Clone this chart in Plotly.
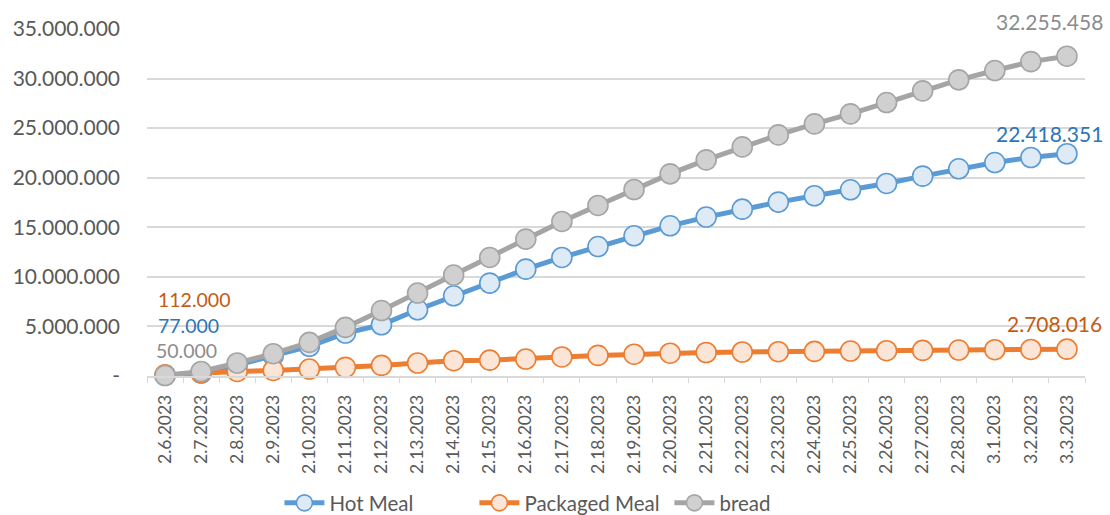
import plotly.graph_objects as go

dates = ["2.6.2023", "2.7.2023", "2.8.2023", "2.9.2023", "2.10.2023", "2.11.2023",
         "2.12.2023", "2.13.2023", "2.14.2023", "2.15.2023", "2.16.2023", "2.17.2023",
         "2.18.2023", "2.19.2023", "2.20.2023", "2.21.2023", "2.22.2023", "2.23.2023",
         "2.24.2023", "2.25.2023", "2.26.2023", "2.27.2023", "2.28.2023", "3.1.2023",
         "3.2.2023", "3.3.2023"]

hot_meal = [77000, 300000, 1100000, 2050000, 3000000, 4330000, 5170000, 6680000,
            8090000, 9370000, 10780000, 11960000, 13060000, 14140000, 15150000,
            16030000, 16830000, 17540000, 18180000, 18780000, 19420000, 20160000,
            20900000, 21530000, 22040000, 22418351]

packaged_meal = [112000, 330000, 460000, 560000, 700000, 870000, 1070000, 1310000,
                 1540000, 1600000, 1710000, 1920000, 2080000, 2200000, 2300000,
                 2370000, 2420000, 2450000, 2480000, 2520000, 2550000, 2580000,
                 2620000, 2650000, 2680000, 2708016]

bread = [50000, 460000, 1310000, 2250000, 3390000, 4900000, 6600000, 8370000,
         10180000, 11960000, 13810000, 15590000, 17200000, 18810000, 20390000,
         21800000, 23110000, 24320000, 25430000, 26440000, 27580000, 28760000,
         29870000, 30810000, 31710000, 32255458]

y_tick_vals = [0, 5000000, 10000000, 15000000, 20000000, 25000000, 30000000, 35000000]
y_tick_text = ["-", "5.000.000", "10.000.000", "15.000.000", "20.000.000",
               "25.000.000", "30.000.000", "35.000.000"]

FONT = "Lato, 'Open Sans', sans-serif"


def fmt(v):
    return f"{v:,}".replace(",", ".")


series = [
    ("Hot Meal", hot_meal, "#5B9BD5", "#DEEBF7", "#2E75B6"),
    ("Packaged Meal", packaged_meal, "#ED7D31", "#FBE5D6", "#C55A11"),
    ("bread", bread, "#A5A5A5", "#D0D0D0", "#8C8C8C"),
]

fig = go.Figure()
for name, vals, line_c, fill_c, _ in series:
    fig.add_trace(go.Scatter(
        x=dates, y=vals, name=name, mode="lines+markers",
        line=dict(color=line_c, width=5),
        marker=dict(size=20, color=fill_c, line=dict(color=line_c, width=1.6)),
        cliponaxis=False,
    ))

# data labels at first and last points
start_shift = {"Packaged Meal": (-9, 75), "Hot Meal": (-9, 50), "bread": (-11, 25)}
end_shift = {"Packaged Meal": (37, 26), "Hot Meal": (38, 20), "bread": (38, 35)}
for name, vals, _, _, lab_c in series:
    sx, sy = start_shift[name]
    fig.add_annotation(x=dates[0], y=vals[0], text=fmt(vals[0]), showarrow=False,
                       xanchor="left", yanchor="middle", xshift=sx, yshift=sy,
                       font=dict(family=FONT, size=19.5, color=lab_c))
    ex, ey = end_shift[name]
    fig.add_annotation(x=dates[-1], y=vals[-1], text=fmt(vals[-1]), showarrow=False,
                       xanchor="right", yanchor="middle", xshift=ex, yshift=ey,
                       font=dict(family=FONT, size=21, color=lab_c))

fig.update_layout(
    width=1110, height=515,
    margin=dict(l=147, r=25, t=29, b=139, autoexpand=False),
    paper_bgcolor="white", plot_bgcolor="white",
    font=dict(family=FONT, color="#595959"),
    showlegend=True,
    legend=dict(orientation="h", x=0.453, xanchor="center", y=-0.366, yanchor="middle",
                font=dict(family=FONT, size=20.5, color="#595959"),
                entrywidth=140, entrywidthmode="pixels", itemwidth=40,
                tracegroupgap=0),
    xaxis=dict(
        type="category", range=[-0.5, len(dates) - 0.5], automargin=False,
        tickangle=-90, tickfont=dict(family=FONT, size=17.5, color="#595959"),
        showgrid=False, showline=True, linecolor="#D9D9D9", linewidth=1.5,
        ticks="outside", ticklen=5, tickcolor="#D9D9D9", tickson="boundaries",
        zeroline=False, ticklabelstandoff=10,
    ),
    yaxis=dict(
        range=[0, 35000000], tickvals=y_tick_vals, ticktext=y_tick_text,
        automargin=False,
        tickfont=dict(family=FONT, size=21, color="#595959"),
        showgrid=True, gridcolor="#D9D9D9", gridwidth=1.5,
        zeroline=False, showline=False, ticklabelstandoff=26,
    ),
)

fig.write_html("out.html")
